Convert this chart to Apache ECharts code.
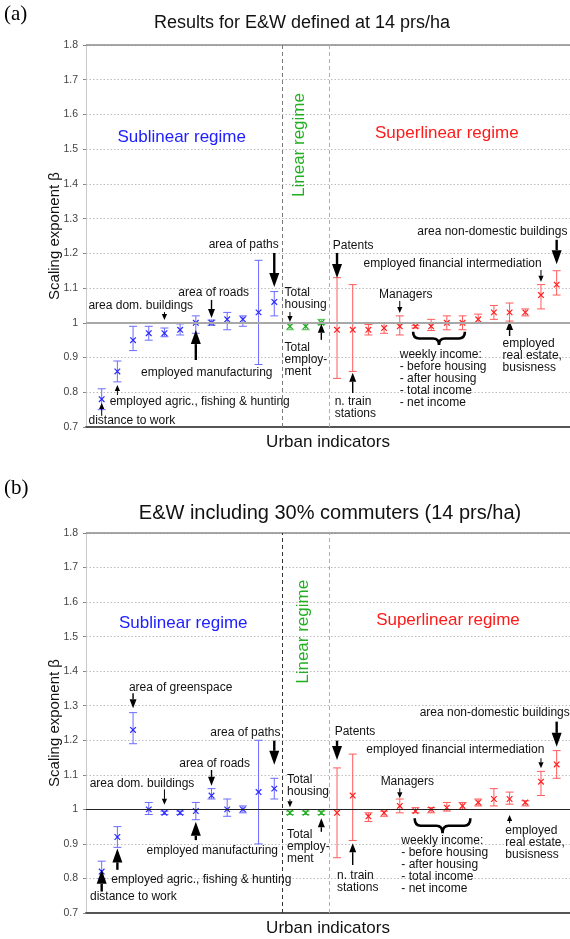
<!DOCTYPE html>
<html><head><meta charset="utf-8">
<script src="https://cdn.jsdelivr.net/npm/echarts@6/dist/echarts.min.js"></script>
<style>html,body{margin:0;padding:0;background:#fff}#c{width:570px;height:939px}</style>
</head><body><div id="c"></div>
<script>
// ---------- Panel (a): E&W defined at 14 prs/ha ----------
const aBlueVal = [0.78, 0.86, 0.95, 0.97, 0.97, 0.98, 1.00, 1.00, 1.01, 1.01, 1.03, 1.06];
const aBlueLo  = [0.75, 0.83, 0.92, 0.95, 0.96, 0.965, 0.97, 0.993, 0.98, 0.99, 0.88, 1.02];
const aBlueHi  = [0.81, 0.89, 0.99, 0.99, 0.985, 0.997, 1.02, 1.008, 1.03, 1.02, 1.18, 1.09];
const aGreenVal = [0.99, 0.99, 1.00];
const aGreenLo  = [0.98, 0.98, 0.995];
const aGreenHi  = [1.00, 1.00, 1.01];
const aRedVal = [0.98, 0.98, 0.98, 0.985, 0.99, 0.99, 0.99, 1.00, 1.00, 1.01, 1.03, 1.03, 1.03, 1.08, 1.11];
const aRedLo  = [0.84, 0.86, 0.965, 0.97, 0.965, 0.985, 0.978, 0.98, 0.98, 1.00, 1.01, 1.005, 1.02, 1.04, 1.08];
const aRedHi  = [1.13, 1.11, 0.995, 1.00, 1.02, 0.992, 1.01, 1.02, 1.02, 1.025, 1.05, 1.057, 1.04, 1.11, 1.15];

// ---------- Panel (b): E&W including 30% commuters ----------
const bBlueVal = [0.82, 0.92, 1.23, 1.00, 0.99, 0.99, 0.995, 1.04, 1.00, 1.00, 1.05, 1.06];
const bBlueLo  = [0.80, 0.89, 1.19, 0.985, 0.985, 0.985, 0.97, 1.03, 0.98, 0.99, 0.90, 1.03];
const bBlueHi  = [0.85, 0.95, 1.28, 1.02, 0.995, 0.995, 1.02, 1.06, 1.03, 1.01, 1.20, 1.09];
const bGreenVal = [0.99, 0.99, 0.99];
const bGreenLo  = [0.985, 0.985, 0.985];
const bGreenHi  = [0.995, 0.995, 0.995];
const bRedVal = [0.99, 1.04, 0.98, 0.99, 1.01, 0.995, 1.00, 1.005, 1.01, 1.02, 1.03, 1.03, 1.02, 1.08, 1.13];
const bRedLo  = [0.86, 0.91, 0.965, 0.98, 0.99, 0.99, 0.99, 0.995, 1.00, 1.01, 1.01, 1.015, 1.01, 1.04, 1.09];
const bRedHi  = [1.12, 1.16, 0.99, 0.995, 1.03, 1.005, 1.005, 1.02, 1.02, 1.03, 1.06, 1.05, 1.025, 1.11, 1.17];

const yTicks = [0.7, 0.8, 0.9, 1, 1.1, 1.2, 1.3, 1.4, 1.5, 1.6, 1.7, 1.8];

// annotations: [text, x (indicator index), y (exponent), align, kind]
const WEEKLY = 'weekly income:\n- before housing\n- after housing\n- total income\n- net income';
const annA = [
  ['Sublinear regime', 6.1, 1.535, 'center', 'blue'],
  ['Linear regime', 13.6, 1.512, 'center', 'green'],
  ['Superlinear regime', 23.0, 1.547, 'center', 'red'],
  ['area of paths', 10.05, 1.224, 'center', 'note'],
  ['area of roads', 8.14, 1.086, 'center', 'note'],
  ['area dom. buildings', 3.49, 1.049, 'center', 'note'],
  ['employed manufacturing', 7.7, 0.856, 'center', 'note'],
  ['employed agric., fishing & hunting', 7.25, 0.772, 'center', 'note'],
  ['distance to work', 2.92, 0.717, 'center', 'note'],
  ['Total\nhousing', 12.66, 1.069, 'left', 'note'],
  ['Total\nemploy-\nment', 12.66, 0.893, 'left', 'note'],
  ['Patents', 15.73, 1.221, 'left', 'note'],
  ['n. train\nstations', 15.85, 0.755, 'left', 'note'],
  ['Managers', 20.38, 1.08, 'center', 'note'],
  [WEEKLY, 20.0, 0.84, 'left', 'note'],
  ['employed financial intermediation', 23.37, 1.169, 'center', 'note'],
  ['area non-domestic buildings', 25.9, 1.262, 'center', 'note'],
  ['employed\nreal estate,\nbusisness', 26.55, 0.905, 'left', 'note']
];
const annB = [
  ['Sublinear regime', 6.2, 1.539, 'center', 'blue'],
  ['Linear regime', 13.83, 1.514, 'center', 'green'],
  ['Superlinear regime', 23.07, 1.548, 'center', 'red'],
  ['area of greenspace', 6.03, 1.353, 'center', 'note'],
  ['area of paths', 10.16, 1.223, 'center', 'note'],
  ['area of roads', 8.2, 1.133, 'center', 'note'],
  ['area dom. buildings', 3.57, 1.074, 'center', 'note'],
  ['employed manufacturing', 8.05, 0.88, 'center', 'note'],
  ['employed agric., fishing & hunting', 7.35, 0.796, 'center', 'note'],
  ['distance to work', 3.02, 0.746, 'center', 'note'],
  ['Total\nhousing', 12.81, 1.069, 'left', 'note'],
  ['Total\nemploy-\nment', 12.81, 0.892, 'left', 'note'],
  ['Patents', 15.85, 1.225, 'left', 'note'],
  ['n. train\nstations', 16.0, 0.79, 'left', 'note'],
  ['Managers', 20.48, 1.08, 'center', 'note'],
  [WEEKLY, 20.1, 0.839, 'left', 'note'],
  ['employed financial intermediation', 23.54, 1.172, 'center', 'note'],
  ['area non-domestic buildings', 26.05, 1.28, 'center', 'note'],
  ['employed\nreal estate,\nbusisness', 26.73, 0.904, 'left', 'note']
];
// arrows: [x index, y from, y to (tip), weight 0/1/2]
const arrA = [[12,1.201,1.103,2],[8,1.066,1.014,1],[5,1.031,1.008,0],[7,0.893,0.979,2],[2,0.792,0.821,0],
  [1,0.732,0.769,0],[13,1.031,1.002,0],[15,0.951,0.997,1],[16,1.201,1.129,2],[17,0.798,0.856,1],
  [20,1.063,1.028,0],[29,1.152,1.118,0],[30,1.239,1.169,2],[27,0.962,1.005,1]];
const arrB = [[3,1.336,1.293,1],[12,1.199,1.129,2],[8,1.114,1.068,1],[5,1.058,1.013,0],[7,0.911,0.964,2],
  [2,0.825,0.887,2],[1,0.762,0.825,2],[13,1.029,1.006,0],[15,0.935,0.974,1],[16,1.199,1.143,2],
  [17,0.839,0.902,1],[20,1.061,1.032,0],[29,1.148,1.119,0],[30,1.254,1.181,2],[27,0.96,0.984,0]];
// brace under weekly income group: [x from, x to, y top, y bottom]
const braceA = [[20.85, 24.15, 0.974, 0.936]];
const braceB = [[20.95, 24.5, 0.974, 0.931]];

const FONT = '"Liberation Sans", Arial, Helvetica, sans-serif';
const BLUE = '#2a2aff', BLUE_BAR = '#6b6bff';
const GREEN = '#1fa81f', GREEN_BAR = '#4cc04c';
const RED = '#ff2020', RED_BAR = '#ff5a5a';

function series3(val, lo, hi, start) {
  return val.map((v, i) => [start + i, v, lo[i], hi[i]]);
}
function errRender(color, barColor) {
  return function (params, api) {
    const x = api.value(0);
    const pv = api.coord([x, api.value(1)]);
    const pl = api.coord([x, api.value(2)]);
    const ph = api.coord([x, api.value(3)]);
    const cw = 4, m = 2.8;
    const ls = { stroke: barColor, lineWidth: 1 };
    const ms = { stroke: color, lineWidth: 1.2 };
    return { type: 'group', children: [
      { type: 'line', shape: { x1: pl[0], y1: pl[1], x2: ph[0], y2: ph[1] }, style: ls },
      { type: 'line', shape: { x1: pl[0] - cw, y1: pl[1], x2: pl[0] + cw, y2: pl[1] }, style: ls },
      { type: 'line', shape: { x1: ph[0] - cw, y1: ph[1], x2: ph[0] + cw, y2: ph[1] }, style: ls },
      { type: 'line', shape: { x1: pv[0] - m, y1: pv[1] - m, x2: pv[0] + m, y2: pv[1] + m }, style: ms },
      { type: 'line', shape: { x1: pv[0] - m, y1: pv[1] + m, x2: pv[0] + m, y2: pv[1] - m }, style: ms }
    ]};
  };
}
function arrowRender(params, api) {
  const x = api.value(0), w = api.value(3);
  const p0 = api.coord([x, api.value(1)]), p1 = api.coord([x, api.value(2)]);
  const dir = p1[1] > p0[1] ? 1 : -1;
  const hl = [6, 9, 14][w], hw = [2.6, 3.5, 5][w], lw = [1, 1.4, 2.4][w];
  const base = p1[1] - dir * hl;
  return { type: 'group', children: [
    { type: 'line', shape: { x1: p0[0], y1: p0[1], x2: p0[0], y2: base }, style: { stroke: '#000', lineWidth: lw } },
    { type: 'polygon', shape: { points: [[p1[0], p1[1]], [p1[0] - hw, base], [p1[0] + hw, base]] }, style: { fill: '#000' } }
  ]};
}
function textRender(list) {
  return function (params, api) {
    const a = list[params.dataIndex];
    const p = api.coord([a[1], a[2]]);
    const kind = a[4];
    const color = { note: '#111', blue: '#2020ff', green: '#22b022', red: '#ff1a1a' }[kind];
    const size = kind === 'note' ? 12 : 17;
    return { type: 'text', x: p[0], y: p[1], rotation: kind === 'green' ? Math.PI / 2 : 0,
      style: { text: a[0], fill: color, font: size + 'px ' + FONT, align: a[3], verticalAlign: 'middle', lineHeight: 12 } };
  };
}
function braceRender(params, api) {
  const a = api.coord([api.value(0), api.value(2)]);
  const b = api.coord([api.value(1), api.value(3)]);
  const L = a[0], R = b[0], T = a[1], B = b[1], M = (L + R) / 2, mid = (T + B) / 2, r = 6;
  const d = 'M' + L + ',' + T + ' Q' + L + ',' + mid + ' ' + (L + r) + ',' + mid +
    ' L' + (M - r) + ',' + mid + ' Q' + M + ',' + mid + ' ' + M + ',' + B +
    ' Q' + M + ',' + mid + ' ' + (M + r) + ',' + mid +
    ' L' + (R - r) + ',' + mid + ' Q' + R + ',' + mid + ' ' + R + ',' + T;
  return { type: 'path', shape: { pathData: d }, style: { stroke: '#000', lineWidth: 2.6, fill: null } };
}

function axesFor(gi) {
  const x = { type: 'value', gridIndex: gi, min: 0, max: 30.85,
    axisLine: { show: true, onZero: false, lineStyle: { color: '#555', width: 2 } },
    axisTick: { show: false }, axisLabel: { show: false }, splitLine: { show: false },
    name: 'Urban indicators', nameLocation: 'middle', nameGap: 7, nameMoveOverlap: false,
    nameTextStyle: { fontFamily: FONT, fontSize: 17, color: '#111', verticalAlign: 'top' } };
  const y = { type: 'value', gridIndex: gi, min: 0.7, max: 1.8, interval: 0.1,
    axisLine: { show: true, lineStyle: { color: '#c8c8c8' } },
    axisTick: { show: true, length: 3, lineStyle: { color: '#888' } },
    axisLabel: { fontFamily: FONT, fontSize: 10.5, color: '#444', margin: 8,
      formatter: v => { const t = yTicks.find(k => Math.abs(k - v) < 1e-6); return t === undefined ? '' : (t === 1 ? '1' : t.toFixed(1)); } },
    splitLine: { show: true, lineStyle: { color: '#bdbdbd', type: [1.5, 2], width: 1 } },
    name: 'Scaling exponent \u03b2', nameLocation: 'middle', nameRotate: 90, nameGap: 24, nameMoveOverlap: false,
    nameTextStyle: { fontFamily: FONT, fontSize: 15, color: '#111' } };
  return [x, y];
}
function panelSeries(gi, d, ann, arr, brace, style) {
  const common = { xAxisIndex: gi, yAxisIndex: gi, silent: true, clip: false };
  return [
    Object.assign({ type: 'line', data: [], markLine: { symbol: 'none', silent: true, label: { show: false },
      data: [
        { yAxis: 1, lineStyle: { color: style.oneColor, width: style.oneWidth, type: 'solid' } },
        { yAxis: 1.8, lineStyle: { color: '#8a8a8a', width: 1.5, type: 'solid' } },
        { xAxis: 12.5, lineStyle: { color: style.dash1, width: 1, type: [4, 3] } },
        { xAxis: 15.5, lineStyle: { color: '#b0b0b0', width: 1, type: [4, 3] } }
      ] } }, common),
    Object.assign({ type: 'custom', renderItem: errRender(BLUE, BLUE_BAR), data: series3(d.bv, d.bl, d.bh, 1), encode: { x: 0, y: [1, 2, 3] } }, common),
    Object.assign({ type: 'custom', renderItem: errRender(GREEN, GREEN_BAR), data: series3(d.gv, d.gl, d.gh, 13), encode: { x: 0, y: [1, 2, 3] } }, common),
    Object.assign({ type: 'custom', renderItem: errRender(RED, RED_BAR), data: series3(d.rv, d.rl, d.rh, 16), encode: { x: 0, y: [1, 2, 3] } }, common),
    Object.assign({ type: 'custom', renderItem: arrowRender, data: arr, encode: { x: 0, y: [1, 2] } }, common),
    Object.assign({ type: 'custom', renderItem: braceRender, data: brace, encode: { x: [0, 1], y: [2, 3] } }, common),
    Object.assign({ type: 'custom', renderItem: textRender(ann), data: ann.map(a => [a[1], a[2]]), encode: { x: 0, y: 1 } }, common)
  ];
}

const axA = axesFor(0), axB = axesFor(1);
const option = {
  animation: false,
  backgroundColor: '#fff',
  grid: [
    { left: 86, right: 0, top: 45, height: 382 },
    { left: 86, right: 0, top: 533, height: 380 }
  ],
  xAxis: [axA[0], axB[0]],
  yAxis: [axA[1], axB[1]],
  graphic: [
    { type: 'text', x: 4, y: 4, style: { text: '(a)', font: '21px "Liberation Serif", "Times New Roman", serif', fill: '#000' } },
    { type: 'text', x: 302, y: 23, style: { text: 'Results for E&W defined at 14 prs/ha', font: '18px ' + FONT, fill: '#111', align: 'center', verticalAlign: 'middle' } },
    { type: 'text', x: 4, y: 478, style: { text: '(b)', font: '21px "Liberation Serif", "Times New Roman", serif', fill: '#000' } },
    { type: 'text', x: 330, y: 513, style: { text: 'E&W including 30% commuters (14 prs/ha)', font: '20px ' + FONT, fill: '#111', align: 'center', verticalAlign: 'middle' } }
  ],
  series: [].concat(
    panelSeries(0, { bv: aBlueVal, bl: aBlueLo, bh: aBlueHi, gv: aGreenVal, gl: aGreenLo, gh: aGreenHi, rv: aRedVal, rl: aRedLo, rh: aRedHi },
      annA, arrA, braceA, { oneColor: '#a8a8a8', oneWidth: 2, dash1: '#7a7a7a' }),
    panelSeries(1, { bv: bBlueVal, bl: bBlueLo, bh: bBlueHi, gv: bGreenVal, gl: bGreenLo, gh: bGreenHi, rv: bRedVal, rl: bRedLo, rh: bRedHi },
      annB, arrB, braceB, { oneColor: '#222', oneWidth: 1, dash1: '#333' })
  )
};
const chart = echarts.init(document.getElementById('c'), null, { renderer: 'canvas' });
chart.setOption(option);
</script>
</body></html>
